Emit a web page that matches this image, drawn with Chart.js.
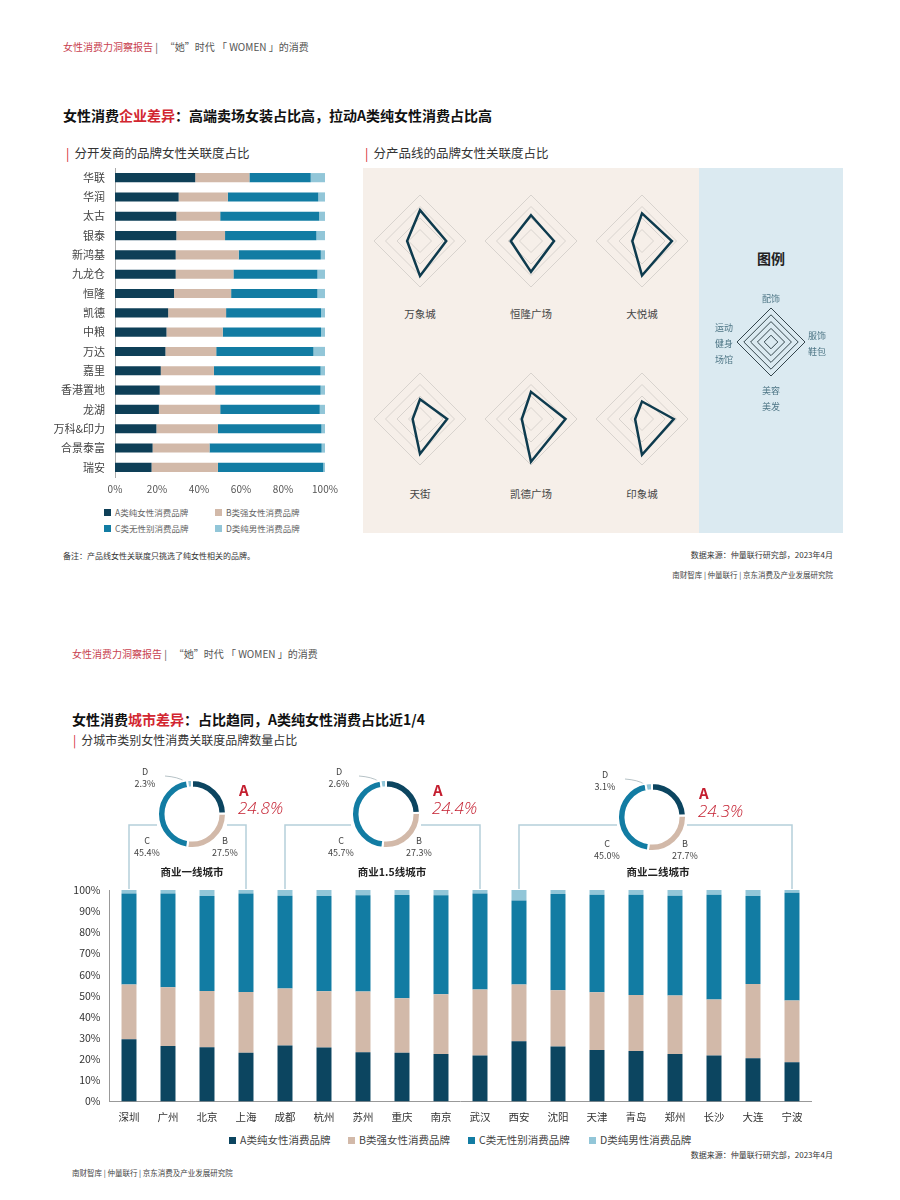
<!DOCTYPE html>
<html>
<head>
<meta charset="utf-8">
<script src="https://cdn.jsdelivr.net/npm/chart.js@4.4.0/dist/chart.umd.min.js"></script>
<style>
  body { margin: 0; width: 900px; height: 1200px; position: relative; overflow: hidden; background: #fff;
         font-family: "Noto Sans CJK SC", "Noto Sans", sans-serif; color: #333; }
  .t { position: absolute; white-space: nowrap; line-height: 1; }
  .c { transform: translateX(-50%); text-align: center; }
  .r { transform: translateX(-100%); }
  .head { font-size: 10px; color: #555; }
  .head b { font-weight: normal; color: #c8414f; }
  .title { font-size: 14px; font-weight: bold; color: #111; }
  .title em { font-style: normal; color: #d22630; }
  .sub { font-size: 12.5px; color: #333; }
  .sub i { font-style: normal; color: #d22630; margin-right: 5px; }
  .sq { display: inline-block; width: 7px; height: 7px; margin-right: 4px; vertical-align: 0; }
  canvas { position: absolute; }
</style>
</head>
<body>

<div class="t head" style="left:63px;top:42px"><b>女性消费力洞察报告</b> |&nbsp;&nbsp;&nbsp;“她”时代 「 WOMEN 」的消费</div>
<div class="t title" style="left:63px;top:108px">女性消费<em>企业差异</em>：高端卖场女装占比高，拉动A类纯女性消费占比高</div>
<div class="t sub" style="left:66px;top:147px"><i>|</i>分开发商的品牌女性关联度占比</div>
<div class="t sub" style="left:365px;top:147px"><i>|</i>分产品线的品牌女性关联度占比</div>

<div style="position:absolute;left:363px;top:168px;width:336px;height:365px;background:#f6efe9"></div>
<div style="position:absolute;left:699px;top:168px;width:144px;height:365px;background:#dbeaf1"></div>
<div class="t c" style="left:771px;top:251px;font-size:14px;font-weight:600;color:#222">图例</div>

<canvas id="devChart" width="290" height="340" style="left:50px;top:160px"></canvas>

<div class="t" style="left:104px;top:508px;font-size:8.5px;color:#666"><span class="sq" style="background:#0e3f57"></span>A类纯女性消费品牌</div>
<div class="t" style="left:215px;top:508px;font-size:8.5px;color:#666"><span class="sq" style="background:#d2b9a9"></span>B类强女性消费品牌</div>
<div class="t" style="left:104px;top:524px;font-size:8.5px;color:#666"><span class="sq" style="background:#127ca3"></span>C类无性别消费品牌</div>
<div class="t" style="left:215px;top:524px;font-size:8.5px;color:#666"><span class="sq" style="background:#92c6d8"></span>D类纯男性消费品牌</div>

<div class="t" style="left:63px;top:552px;font-size:8px;color:#333">备注：产品线女性关联度只挑选了纯女性相关的品牌。</div>
<div class="t r" style="left:833px;top:551px;font-size:8px;color:#333">数据来源：仲量联行研究部，2023年4月</div>
<div class="t r" style="left:833px;top:571px;font-size:7.5px;color:#444">南财智库 | 仲量联行 | 京东消费及产业发展研究院</div>

<div class="t head" style="left:72px;top:649px"><b>女性消费力洞察报告</b> |&nbsp;&nbsp;&nbsp;“她”时代 「 WOMEN 」的消费</div>
<div class="t title" style="left:72px;top:712px">女性消费<em>城市差异</em>：占比趋同，A类纯女性消费占比近1/4</div>
<div class="t sub" style="left:73px;top:734px;font-size:12px"><i>|</i>分城市类别女性消费关联度品牌数量占比</div>

<canvas id="cityChart" width="900" height="370" style="left:0;top:760px"></canvas>

<div class="t" style="left:229px;top:1135px;font-size:10.5px;color:#444"><span class="sq" style="background:#0c4560"></span>A类纯女性消费品牌</div>
<div class="t" style="left:348px;top:1135px;font-size:10.5px;color:#444"><span class="sq" style="background:#d2b9a9"></span>B类强女性消费品牌</div>
<div class="t" style="left:468px;top:1135px;font-size:10.5px;color:#444"><span class="sq" style="background:#127ca3"></span>C类无性别消费品牌</div>
<div class="t" style="left:589px;top:1135px;font-size:10.5px;color:#444"><span class="sq" style="background:#92c6d8"></span>D类纯男性消费品牌</div>
<div class="t r" style="left:833px;top:1151px;font-size:8px;color:#333">数据来源：仲量联行研究部，2023年4月</div>
<div class="t" style="left:72px;top:1169px;font-size:7.5px;color:#444">南财智库 | 仲量联行 | 京东消费及产业发展研究院</div>

<script>
// developers (top left)
const developers = ['华联','华润','太古','银泰','新鸿基','九龙仓','恒隆','凯德','中粮','万达','嘉里','香港置地','龙湖','万科&印力','合景泰富','瑞安'];
const devA = [38.2,30.3,29.2,29.2,28.9,28.9,28.1,25.3,24.5,24.0,21.8,21.3,20.9,19.7,17.9,17.4];
const devB = [25.8,23.4,20.9,23.2,30.0,27.5,27.2,27.6,26.8,24.2,25.3,26.4,29.2,29.3,27.1,31.6];
const devC = [29.2,43.1,47.1,43.5,39.1,40.0,41.1,45.2,46.8,46.3,50.8,50.2,47.4,49.3,53.4,50.2];
const devD = [6.8,3.2,2.8,4.1,2.0,3.6,3.6,1.9,1.9,5.5,2.1,2.1,2.5,1.7,1.6,0.8];

// product lines per mall, order: 配饰, 服饰鞋包, 美容美发, 运动健身场馆
const radarAxes = ['配饰','服饰鞋包','美容美发','运动健身场馆'];
const malls = ['万象城','恒隆广场','大悦城','天街','凯德广场','印象城'];
const mallScores = [
  [67,57,76,28],
  [56,50,67,44],
  [60,65,75,21],
  [43,59,76,16],
  [59,75,93,20],
  [38,69,78,15]
];

// cities (bottom)
const cities = ['深圳','广州','北京','上海','成都','杭州','苏州','重庆','南京','武汉','西安','沈阳','天津','青岛','郑州','长沙','大连','宁波'];
const cityA = [29.4,26.3,25.7,23.0,26.5,25.5,23.3,23.1,22.5,21.7,28.5,26.0,24.3,23.9,22.5,21.7,20.5,18.6];
const cityB = [25.9,27.7,26.6,28.8,26.9,26.6,28.7,25.7,28.2,31.2,26.8,26.6,27.4,26.5,27.6,26.5,35.1,29.1];
const cityC = [43.1,44.4,44.9,46.6,43.9,45.1,45.5,48.8,46.8,45.5,39.7,45.5,46.1,47.4,47.2,49.6,41.6,51.0];
const cityD = [1.6,1.6,2.8,1.6,2.7,2.8,2.5,2.4,2.5,1.6,5.0,1.9,2.2,2.2,2.7,2.2,2.8,1.3];

// city tiers
const tierNames = ['商业一线城市','商业1.5线城市','商业二线城市'];
const tierShares = [[24.8,27.5,45.4,2.3],[24.4,27.3,45.7,2.6],[24.3,27.7,45.0,3.1]];
const tierSpan = [[0,3],[4,9],[10,17]];

const colA = '#0c4560', colB = '#d2b9a9', colC = '#127ca3', colD = '#92c6d8';
const typeLabels = ['A类纯女性消费品牌','B类强女性消费品牌','C类无性别消费品牌','D类纯男性消费品牌'];

Chart.defaults.font.family = '"Noto Sans CJK SC", "Noto Sans", sans-serif';
Chart.defaults.animation = false;
Chart.defaults.responsive = false;
Chart.defaults.plugins.legend.display = false;
Chart.defaults.plugins.tooltip.enabled = false;

// top left: stacked horizontal bars
new Chart(document.getElementById('devChart'), {
  type: 'bar',
  data: {
    labels: developers,
    datasets: [
      { label: typeLabels[0], data: devA, backgroundColor: '#0e3f57' },
      { label: typeLabels[1], data: devB, backgroundColor: colB },
      { label: typeLabels[2], data: devC, backgroundColor: colC },
      { label: typeLabels[3], data: devD, backgroundColor: colD }
    ]
  },
  options: {
    indexAxis: 'y',
    layout: { padding: { top: 8, right: 15 } },
    datasets: { bar: { barPercentage: 0.5, categoryPercentage: 0.95 } },
    scales: {
      x: {
        stacked: true, min: 0, max: 100,
        grid: { display: false, drawTicks: false }, border: { display: false },
        ticks: { stepSize: 20, callback: v => v + '%', color: '#555', font: { size: 10 }, padding: 6 },
        afterFit(s) { s.height = 23; s.paddingLeft = 0; s.paddingRight = 0; }
      },
      y: {
        stacked: true,
        grid: { display: false, drawTicks: false }, border: { color: '#aaa' },
        ticks: { color: '#444', font: { size: 11 }, padding: 10 },
        afterFit(s) { s.width = 65; s.paddingTop = 0; s.paddingBottom = 0; }
      }
    }
  }
});

// small radars
const radarSpots = [[420,241],[531,241],[642,241],[420,419],[531,419],[642,419]];
malls.forEach((mall, i) => {
  const [cx, cy] = radarSpots[i];
  const cv = document.createElement('canvas');
  cv.width = 100; cv.height = 100;
  cv.style.left = (cx - 50) + 'px';
  cv.style.top = (cy - 50) + 'px';
  document.body.appendChild(cv);
  new Chart(cv, {
    type: 'radar',
    data: { labels: radarAxes, datasets: [{ data: mallScores[i], borderColor: '#0e3b4e', borderWidth: 2.5, fill: false, pointRadius: 0, borderJoinStyle: 'miter' }] },
    options: {
      layout: { padding: 4 },
      scales: { r: { min: 0, max: 100, ticks: { display: false, stepSize: 25 }, grid: { color: '#d8d3ce', lineWidth: 1 },
                     angleLines: { display: false }, pointLabels: { display: false } } }
    }
  });
  const name = document.createElement('div');
  name.className = 't c';
  name.style.cssText = `left:${cx}px;top:${cy + (i < 3 ? 68 : 70)}px;font-size:10.5px;color:#444`;
  name.textContent = mall;
  document.body.appendChild(name);
});

// legend radar
const legendCv = document.createElement('canvas');
legendCv.width = 76; legendCv.height = 76;
legendCv.style.left = (771 - 38) + 'px';
legendCv.style.top = (342 - 38) + 'px';
document.body.appendChild(legendCv);
new Chart(legendCv, {
  type: 'radar',
  data: { labels: radarAxes, datasets: [] },
  options: {
    layout: { padding: 4 },
    scales: { r: { min: 0, max: 100, ticks: { display: false, stepSize: 20 }, grid: { color: '#34454c', lineWidth: 1 },
                   angleLines: { display: false }, pointLabels: { display: false } } }
  }
});
const legendSpots = [[771,291,'c'],[808,328,''],[771,383,'c'],[724,320,'c']];
radarAxes.forEach((ax, i) => {
  const [x, y, cls] = legendSpots[i];
  const d = document.createElement('div');
  d.className = 't ' + cls;
  d.style.cssText = `left:${x}px;top:${y}px;font-size:9px;line-height:16px;color:#4d7585`;
  d.innerHTML = ax.match(/.{1,2}/g).join('<br>');
  document.body.appendChild(d);
});

// bottom: stacked columns by city, with tier brackets
const cityTop = 760;
const donutSpots = [[192,814],[386,814],[652,817]];
const donutR = 35;
const tierTitleX = [192,392,658];

const bracketPlugin = {
  id: 'tierBrackets',
  afterDraw(chart) {
    const { ctx, chartArea } = chart;
    const x = chart.scales.x;
    const lineY = 825 - cityTop;
    ctx.save();
    tierSpan.forEach((span, i) => {
      const left = x.getPixelForValue(span[0]);
      const right = x.getPixelForValue(span[1]);
      const [cx, cy] = donutSpots[i];
      ctx.strokeStyle = '#b5d0da';
      ctx.lineWidth = 1.5;
      ctx.beginPath();
      ctx.moveTo(left, chartArea.top - 1);
      ctx.lineTo(left, lineY);
      ctx.lineTo(cx - donutR, lineY);
      ctx.moveTo(cx + donutR, lineY);
      ctx.lineTo(right, lineY);
      ctx.lineTo(right, chartArea.top - 1);
      ctx.stroke();
      // leader from the D label to its slice
      ctx.strokeStyle = '#a3b3b8';
      ctx.lineWidth = 0.8;
      ctx.beginPath();
      ctx.moveTo(cx - 27, cy - 38 - cityTop);
      ctx.quadraticCurveTo(cx - 14, cy - 37 - cityTop, cx - 8, cy - 33 - cityTop);
      ctx.stroke();
    });
    ctx.restore();
  }
};

new Chart(document.getElementById('cityChart'), {
  type: 'bar',
  data: {
    labels: cities,
    datasets: [
      { label: typeLabels[0], data: cityA, backgroundColor: colA },
      { label: typeLabels[1], data: cityB, backgroundColor: colB },
      { label: typeLabels[2], data: cityC, backgroundColor: colC },
      { label: typeLabels[3], data: cityD, backgroundColor: colD }
    ]
  },
  options: {
    layout: { padding: { top: 130, right: 88.5 } },
    datasets: { bar: { barPercentage: 0.4, categoryPercentage: 0.96 } },
    scales: {
      x: {
        stacked: true,
        grid: { display: false, drawTicks: false }, border: { color: '#999' },
        ticks: { color: '#333', font: { size: 10.5 }, padding: 9, autoSkip: false, maxRotation: 0 },
        afterFit(s) { s.height = 28.5; s.paddingLeft = 0; s.paddingRight = 0; }
      },
      y: {
        stacked: true, min: 0, max: 100,
        grid: { display: false, drawTicks: false }, border: { color: '#999' },
        ticks: { stepSize: 10, callback: v => v + '%', color: '#333', font: { size: 10.5 }, padding: 9 },
        afterFit(s) { s.width = 109.5; s.paddingTop = 0; s.paddingBottom = 0; }
      }
    }
  },
  plugins: [bracketPlugin]
});

// tier doughnuts and their labels
function label(html, x, y, css, cls) {
  const d = document.createElement('div');
  d.className = 't ' + (cls || '');
  d.style.cssText = `left:${x}px;top:${y}px;z-index:3;` + css;
  d.innerHTML = html;
  document.body.appendChild(d);
}

tierShares.forEach((shares, i) => {
  const [cx, cy] = donutSpots[i];
  const cv = document.createElement('canvas');
  cv.width = 2 * donutR; cv.height = 2 * donutR;
  cv.style.cssText = `left:${cx - donutR}px;top:${cy - donutR}px;z-index:2`;
  document.body.appendChild(cv);
  new Chart(cv, {
    type: 'doughnut',
    data: { labels: ['A','B','C','D'], datasets: [{ data: shares, backgroundColor: [colA, colB, colC, colD], borderColor: '#fff', borderWidth: 2 }] },
    options: { cutout: '78%' }
  });
  const small = 'font-size:9px;line-height:12px;color:#444';
  label('D<br>' + shares[3].toFixed(1) + '%', cx - 47, cy - 48, small, 'c');
  label('C<br>' + shares[2].toFixed(1) + '%', cx - 45, cy + 21, small, 'c');
  label('B<br>' + shares[1].toFixed(1) + '%', cx + 33, cy + 21, small, 'c');
  label('A', cx + 47, cy - 32, 'font-size:15px;font-weight:bold;color:#c41e2f');
  label(shares[0].toFixed(1) + '%', cx + 46, cy - 15, 'font-size:17px;font-style:italic;font-weight:300;color:#c41e2f;font-family:"Open Sans","Liberation Sans",sans-serif');
  label(tierNames[i], tierTitleX[i], 867, 'font-size:10.5px;font-weight:bold;color:#222', 'c');
});
</script>
</body>
</html>
